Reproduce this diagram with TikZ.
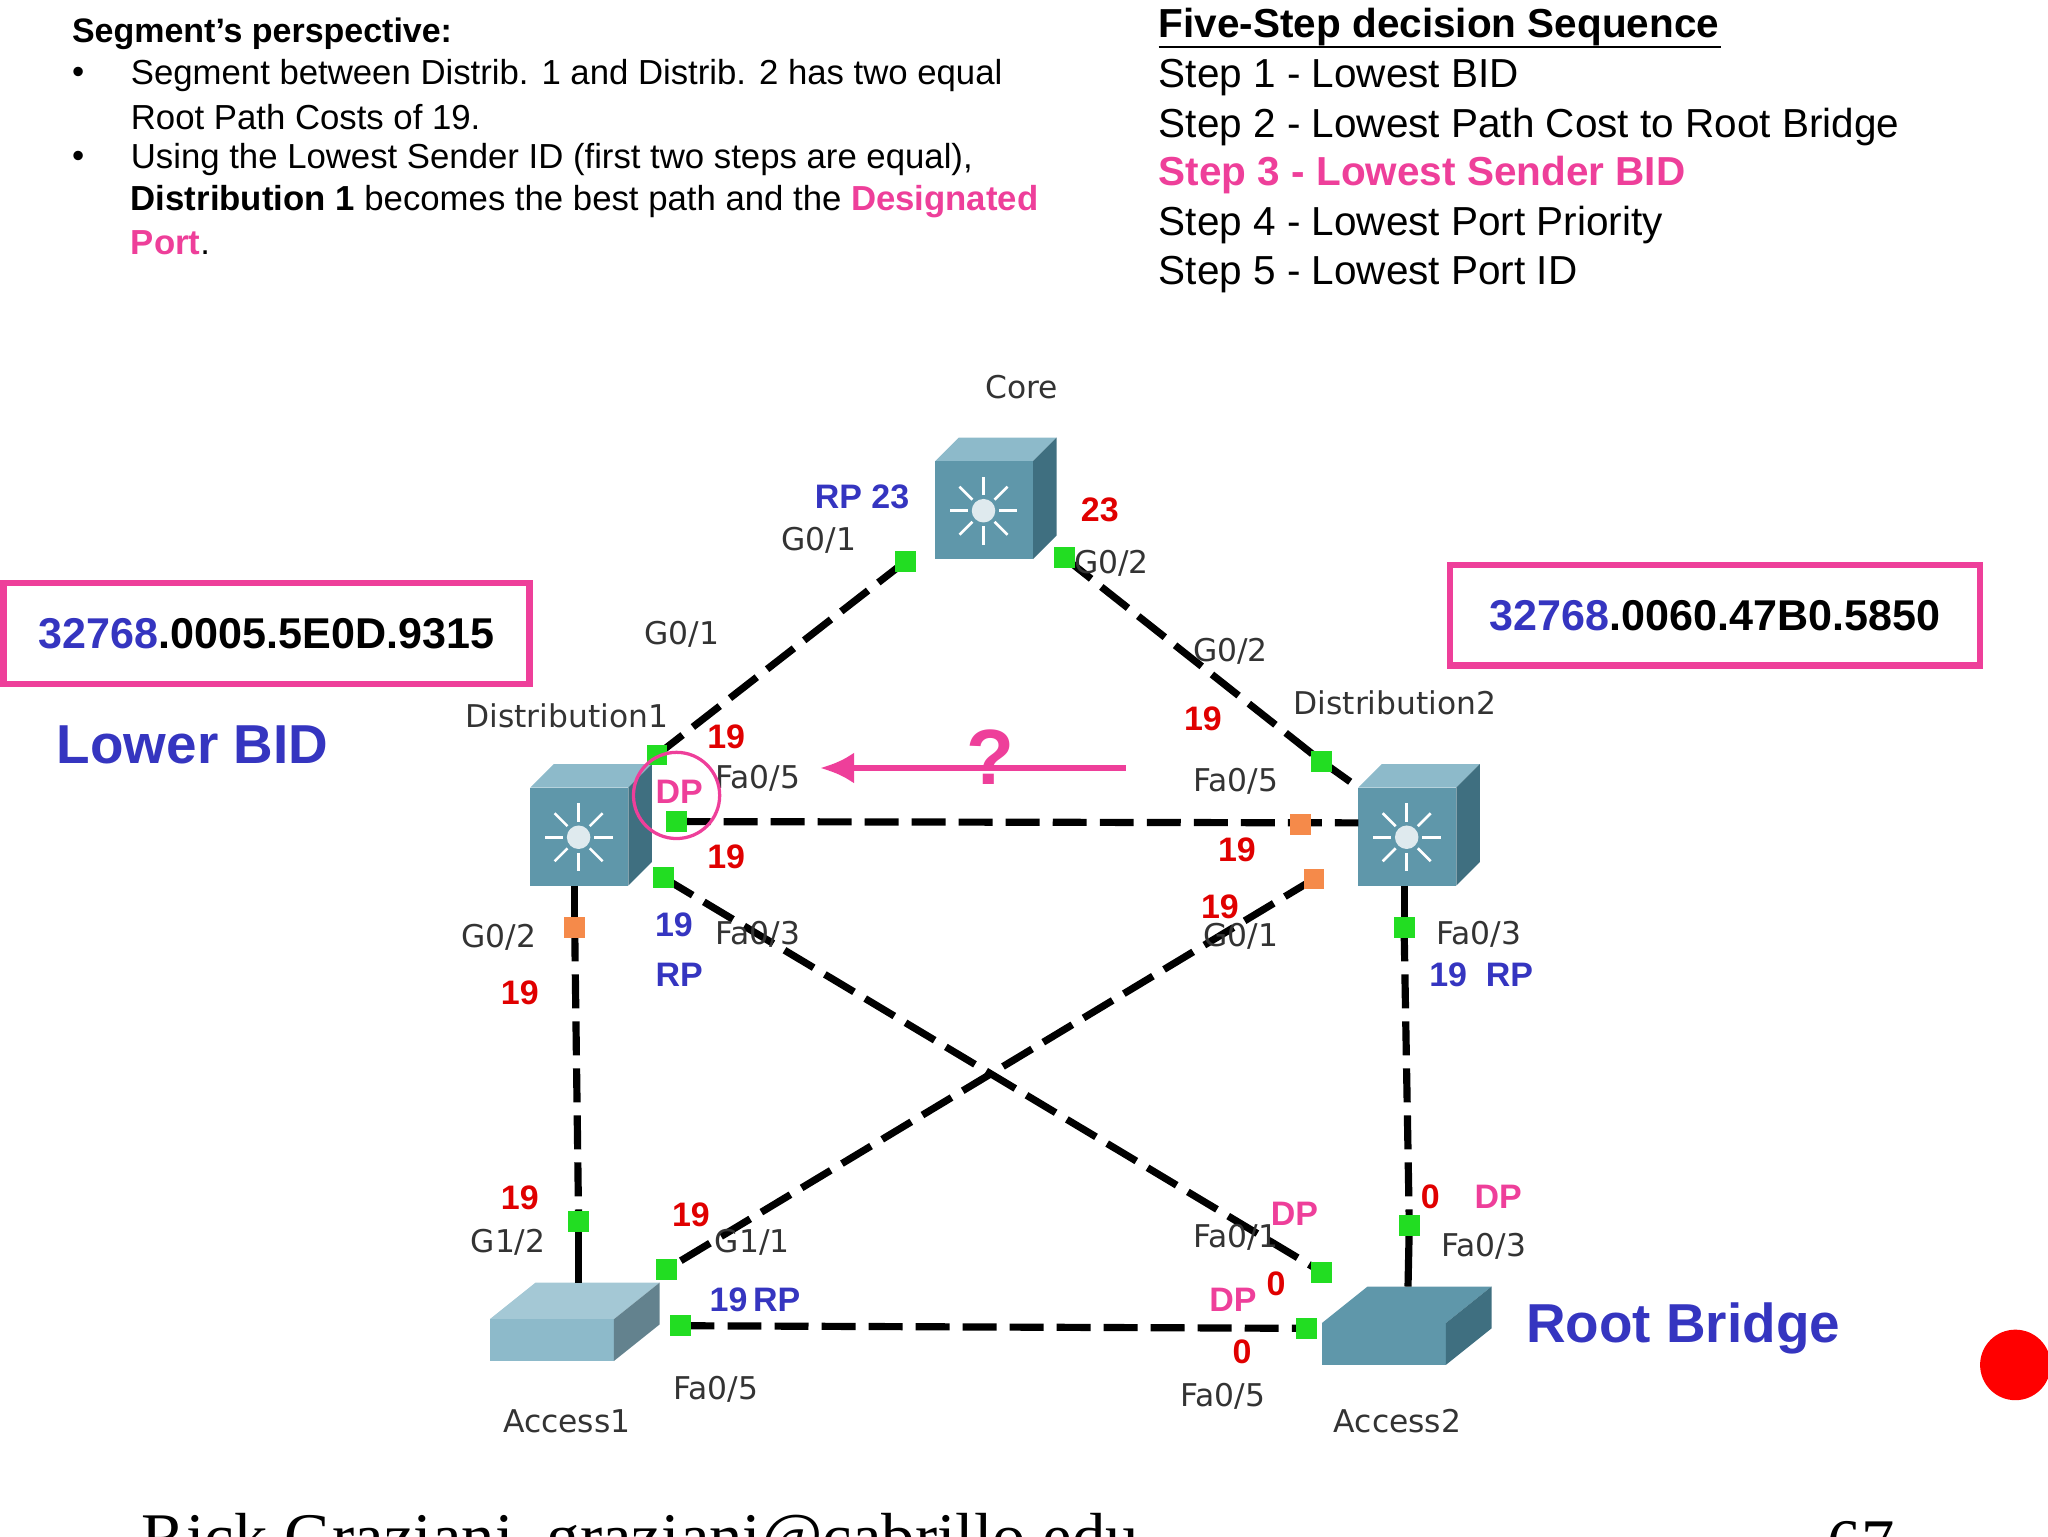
\documentclass[tikz,border=0pt]{standalone}
\usepackage{fontspec}
\setmainfont{Liberation Sans}
\newfontfamily\lbl{DejaVu Sans}
\usetikzlibrary{calc,arrows.meta}
\definecolor{pk}{HTML}{EE3F9A}
\definecolor{bl}{HTML}{3535C0}
\definecolor{rd}{HTML}{E00000}
\definecolor{gr}{HTML}{22DD22}
\definecolor{og}{HTML}{F58A4A}
\definecolor{sw}{HTML}{5F97AA}
\definecolor{swt}{HTML}{8DBACA}
\definecolor{swd}{HTML}{3F6F80}
\newcommand{\fs}[1]{\fontsize{#1}{#1}\selectfont}
\tikzset{
 link/.style={line width=5.5pt,dash pattern=on 26pt off 10pt},
 gp/.style={fill=gr,minimum size=16pt,inner sep=0,draw=none},
 op/.style={fill=og,minimum size=16pt,inner sep=0,draw=none},
 r/.style={text=rd,font=\fs{26}\bfseries,inner sep=1pt},
 b/.style={text=bl,font=\fs{26}\bfseries,inner sep=1pt},
 p/.style={text=pk,font=\fs{26}\bfseries,inner sep=1pt},
 pl/.style={font=\lbl\fs{24},text=black!80,inner sep=1pt},
 txt/.style={anchor=west,inner sep=0,font=\fs{26.6}},
 stp/.style={anchor=west,inner sep=0,font=\fs{31}},
}
\newcommand{\cube}[3]{% name, x, y (front-face lower-left)
 \fill[swt] (#2,#3-75) -- (#2+18,#3-93) -- (#2+93,#3-93) -- (#2+75,#3-75) -- cycle;
 \fill[swd] (#2+75,#3) -- (#2+93,#3-18) -- (#2+93,#3-93) -- (#2+75,#3-75) -- cycle;
 \fill[sw] (#2,#3) rectangle (#2+75,#3-75);
 \foreach \a in {0,45,...,315}{\draw[white,line width=2pt] ($(#2+37,#3-37)+(\a:12)$) -- ($(#2+37,#3-37)+(\a:26)$);}
 \fill[white!80!sw] (#2+37,#3-37) circle (9);
 \node[inner sep=0,minimum width=93pt,minimum height=93pt] (#1) at (#2+46,#3-46) {};
}
\begin{document}
\begin{tikzpicture}[x=1pt,y=-1pt]
\useasboundingbox (0,0) rectangle (1568,1176);
\clip (0,0) rectangle (1568,1176);
% text block left
\node[txt,font=\fs{26}\bfseries] (h) at (55,26) {Segment’s perspective:};
\node[txt] (b1) at (55,58) {•};
\node[txt] (t1) at (100,58) {Segment between Distrib. 1 and Distrib. 2 has two equal};
\node[txt] (t2) at (100,90) {Root Path Costs of 19.};
\node[txt] (b2) at (55,122) {•};
\node[txt] (t3) at (100,122) {Using the Lowest Sender ID (first two steps are equal),};
\node[txt] (t4) at (100,154) {\textbf{Distribution 1} becomes the best path and the \textcolor{pk}{\textbf{Designated}}};
\node[txt,text=pk,font=\fs{26.6}\bfseries] (t5) at (100,186) {Port\textcolor{black}{\mdseries.}};
% steps
\node[stp,font=\fs{31}\bfseries] (s0) at (887,21) {Five-Step decision Sequence};
\draw[line width=2pt] (887,36) -- (1318,36);
\node[stp] (s1) at (887,59) {Step 1 - Lowest BID};
\node[stp] (s2) at (887,97) {Step 2 - Lowest Path Cost to Root Bridge};
\node[stp,text=pk,font=\fs{31}\bfseries] (s3) at (887,134) {Step 3 - Lowest Sender BID};
\node[stp] (s4) at (887,172) {Step 4 - Lowest Port Priority};
\node[stp] (s5) at (887,210) {Step 5 - Lowest Port ID};
% BID boxes
\node[draw=pk,line width=5pt,minimum width=403pt,minimum height=77pt,font=\fs{33}\bfseries] (bid1) at (204,485) {\textcolor{bl}{32768}.0005.5E0D.9315};
\node[draw=pk,line width=5pt,minimum width=406pt,minimum height=77pt,font=\fs{33}\bfseries] (bid2) at (1313,471) {\textcolor{bl}{32768}.0060.47B0.5850};
\node[text=bl,font=\fs{42}\bfseries,anchor=west] (lb) at (40,570) {Lower BID};
\node[text=bl,font=\fs{42}\bfseries,anchor=west] (rb) at (1165,1017) {Root Bridge};
\fill[red] (1543,1045) circle (27);
\node[anchor=west,font=\fontspec{Liberation Serif}\fs{51}] (ft) at (105,1182) {Rick Graziani\ \ graziani@cabrillo.edu};
\node[font=\fontspec{Liberation Serif}\fs{51}] (pg) at (1425,1182) {67};
% switches
\cube{core}{716}{428}
\cube{d1}{406}{678}
\cube{d2}{1040}{678}
% access switches
\fill[swt!80!white] (375,1010) -- (410,982) -- (505,982) -- (470,1010) -- cycle;
\fill[swt] (375,1010) rectangle (470,1042);
\fill[swt!70!black] (470,1010) -- (505,982) -- (505,1014) -- (470,1042) -- cycle;
\node[inner sep=0,minimum width=130pt,minimum height=60pt] (a1) at (440,1012) {};
\fill[sw] (1012,1013) -- (1047,985) -- (1142,985) -- (1107,1013) -- cycle;
\fill[sw] (1012,1013) rectangle (1107,1045);
\fill[swd] (1107,1013) -- (1142,985) -- (1142,1017) -- (1107,1045) -- cycle;
\node[inner sep=0,minimum width=130pt,minimum height=60pt] (a2) at (1077,1015) {};
% port coordinates
\coordinate (c1) at (693,430); \coordinate (c2) at (815,427);
\coordinate (d1a) at (503,578); \coordinate (d1b) at (518,629); \coordinate (d1c) at (508,672); \coordinate (d1d) at (440,710);
\coordinate (d2a) at (1012,583); \coordinate (d2b) at (996,631); \coordinate (d2c) at (1006,673); \coordinate (d2d) at (1075,710);
\coordinate (a1a) at (443,935); \coordinate (a1b) at (510,972); \coordinate (a1c) at (521,1015);
\coordinate (a2a) at (1079,938); \coordinate (a2b) at (1012,974); \coordinate (a2c) at (1000,1017);
\coordinate (d1s) at (440,678); \coordinate (d2s) at (1075,678);
\coordinate (a1t) at (443,982); \coordinate (a2t) at (1078,985);
% links
\draw[link] (c1) -- (d1a);
\draw[link] (c2) -- (d2a) -- (1040,603);
\draw[link] (d1b) -- (1040,630);
\draw[link] (d1c) -- (a2b);
\draw[link] (d2c) -- (a1b);
\draw[link] (d1d) -- (a1a);
\draw[link] (d2d) -- (a2a);
\draw[link] (a1c) -- (a2c);
\draw[line width=5.5pt] (d1s) -- (d1d); \draw[line width=5.5pt] (d2s) -- (d2d);
\draw[line width=5.5pt] (a1a) -- (a1t); \draw[line width=5.5pt] (a2a) -- (a2t);
% port dots
\foreach \c in {c1,c2,d1a,d1b,d1c,d2a,d2d,a1a,a1b,a1c,a2a,a2b,a2c} \node[gp] at (\c) {};
\foreach \c in {d1d,d2b,d2c} \node[op] at (\c) {};
% device labels
\node[pl] (lc) at (782,296) {Core};
\node[pl] (ld1) at (434,548) {Distribution1};
\node[pl] (ld2) at (1068,538) {Distribution2};
\node[pl] (la1) at (434,1088) {Access1};
\node[pl] (la2) at (1070,1088) {Access2};
% port labels
\node[pl] at (627,414) {G0/1};
\node[pl] at (851,431) {G0/2};
\node[pl] at (522,486) {G0/1};
\node[pl] at (942,499) {G0/2};
\node[pl] at (580,596) {Fa0/5};
\node[pl] at (946,598) {Fa0/5};
\node[pl] at (580,715) {Fa0/3};
\node[pl] at (950,717) {G0/1};
\node[pl] at (382,718) {G0/2};
\node[pl] at (1132,715) {Fa0/3};
\node[pl] at (389,951) {G1/2};
\node[pl] at (576,951) {G1/1};
\node[pl] at (946,947) {Fa0/1};
\node[pl] at (1136,954) {Fa0/3};
\node[pl] at (548,1064) {Fa0/5};
\node[pl] at (936,1069) {Fa0/5};
% costs/roles
\node[b] at (660,380) {RP 23};
\node[r] at (842,390) {23};
\node[r] at (556,564) {19};
\node[r] at (921,550) {19};
\node[p] at (520,606) {DP};
\draw[pk,line width=2.5pt] (518,609) circle (33);
\node[r] at (556,656) {19};
\node[r] at (947,651) {19};
\node[b] at (516,708) {19};
\node[b] at (520,746) {RP};
\node[r] at (934,694) {19};
\node[b] at (1134,746) {19\ \ RP};
\node[r] at (398,760) {19};
\node[r] at (398,917) {19};
\node[r] at (529,930) {19};
\node[b] at (578,995) {19\,RP};
\node[p] at (991,929) {DP};
\node[r] at (1095,916) {0};
\node[p] at (1147,916) {DP};
\node[p] at (944,995) {DP};
\node[r] at (977,983) {0};
\node[r] at (951,1035) {0};
% arrow with ?
\draw[pk,line width=5pt,-{Latex[length=26pt,width=24pt]}] (862,588) -- (628,588);
\node[text=pk,font=\fs{60}\bfseries] (q) at (758,580) {?};
\end{tikzpicture}
\end{document}
